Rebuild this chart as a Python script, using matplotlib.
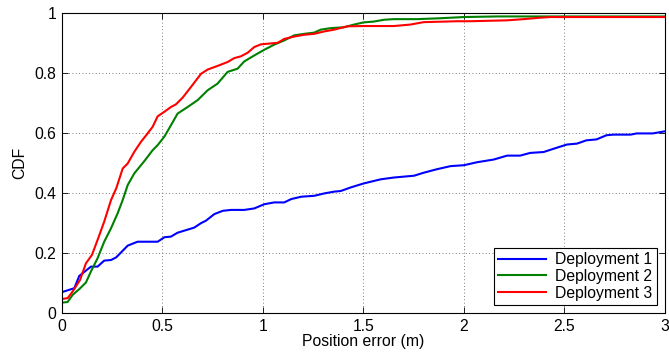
import numpy as np
import matplotlib
matplotlib.use("Agg")
import matplotlib.pyplot as plt

# Deployment 1
x1 = [0, 0.061, 0.086, 0.144, 0.177, 0.21, 0.244, 0.27, 0.327, 0.376, 0.476, 0.51, 0.542,
      0.575, 0.658, 0.692, 0.716, 0.758, 0.8, 0.84, 0.907, 0.957, 1.007, 1.056, 1.106, 1.14,
      1.19, 1.255, 1.305, 1.355, 1.387, 1.437, 1.5, 1.586, 1.652, 1.752, 1.8, 1.868, 1.934,
      2.0, 2.066, 2.149, 2.215, 2.28, 2.33, 2.397, 2.447, 2.513, 2.563, 2.61, 2.66, 2.71,
      2.745, 2.83, 2.86, 2.94, 3.0]
y1 = [0.07, 0.083, 0.124, 0.155, 0.155, 0.175, 0.177, 0.186, 0.225, 0.238, 0.238, 0.253, 0.255,
      0.268, 0.285, 0.30, 0.308, 0.33, 0.341, 0.344, 0.344, 0.349, 0.363, 0.369, 0.369, 0.38,
      0.388, 0.391, 0.399, 0.405, 0.407, 0.419, 0.432, 0.446, 0.452, 0.458, 0.468, 0.48, 0.49,
      0.493, 0.503, 0.512, 0.525, 0.525, 0.534, 0.537, 0.548, 0.562, 0.565, 0.576, 0.579, 0.593,
      0.595, 0.595, 0.599, 0.599, 0.606]

# Deployment 2
x2 = [0, 0.028, 0.053, 0.086, 0.119, 0.144, 0.177, 0.21, 0.244, 0.277, 0.302, 0.327, 0.36,
      0.41, 0.451, 0.476, 0.509, 0.542, 0.575, 0.625, 0.675, 0.725, 0.774, 0.824, 0.874, 0.907,
      0.957, 1.007, 1.056, 1.106, 1.156, 1.206, 1.255, 1.288, 1.338, 1.404, 1.454, 1.5, 1.553,
      1.603, 1.652, 1.768, 1.884, 2.0, 2.166, 2.33, 2.66, 3.0]
y2 = [0.035, 0.037, 0.061, 0.08, 0.102, 0.139, 0.183, 0.238, 0.283, 0.333, 0.377, 0.427, 0.466,
      0.507, 0.543, 0.56, 0.588, 0.626, 0.665, 0.687, 0.71, 0.743, 0.765, 0.804, 0.815, 0.839,
      0.859, 0.878, 0.895, 0.909, 0.926, 0.931, 0.935, 0.945, 0.95, 0.953, 0.962, 0.969, 0.972,
      0.978, 0.98, 0.98, 0.983, 0.987, 0.989, 0.989, 0.989, 0.989]

# Deployment 3
x3 = [0, 0.028, 0.053, 0.09, 0.119, 0.149, 0.177, 0.21, 0.244, 0.27, 0.302, 0.327, 0.36, 0.393,
      0.426, 0.451, 0.476, 0.509, 0.542, 0.567, 0.6, 0.642, 0.692, 0.725, 0.774, 0.824, 0.857,
      0.89, 0.924, 0.957, 0.99, 1.023, 1.073, 1.106, 1.156, 1.206, 1.255, 1.305, 1.355, 1.42,
      1.5, 1.652, 1.735, 1.8, 1.967, 2.033, 2.215, 2.298, 2.364, 2.43, 3.0]
y3 = [0.047, 0.05, 0.072, 0.111, 0.166, 0.194, 0.244, 0.305, 0.377, 0.416, 0.482, 0.499, 0.538,
      0.571, 0.599, 0.621, 0.656, 0.671, 0.687, 0.696, 0.718, 0.754, 0.798, 0.812, 0.824, 0.837,
      0.85, 0.856, 0.868, 0.887, 0.896, 0.898, 0.901, 0.914, 0.922, 0.928, 0.931, 0.939, 0.945,
      0.956, 0.957, 0.957, 0.962, 0.97, 0.973, 0.973, 0.976, 0.98, 0.984, 0.987, 0.987]

labels = ["Deployment 1", "Deployment 2", "Deployment 3"]
colors = ["#0000ff", "#008000", "#ff0000"]

xticks = [0, 0.5, 1, 1.5, 2, 2.5, 3]
xticklabels = ["0", "0.5", "1", "1.5", "2", "2.5", "3"]
yticks = [0, 0.2, 0.4, 0.6, 0.8, 1]
yticklabels = ["0", "0.2", "0.4", "0.6", "0.8", "1"]

plt.rcParams['font.family'] = ['Liberation Sans', 'DejaVu Sans']
plt.rcParams['font.size'] = 11.3

fig = plt.figure(figsize=(6.69, 3.55), dpi=100)
ax = fig.add_axes([0.0927, 0.118, 0.901, 0.845])

for xs, ys, lab, c in zip([x1, x2, x3], [y1, y2, y3], labels, colors):
    ax.plot(xs, ys, color=c, lw=1.5, label=lab)

ax.set_xlim(0, 3)
ax.set_ylim(0, 1)
ax.set_xticks(xticks)
ax.set_xticklabels(xticklabels)
ax.set_yticks(yticks)
ax.set_yticklabels(yticklabels)
ax.tick_params(direction="in", top=True, right=True, length=4, width=0.6, pad=4)
ax.grid(True, linestyle=(0, (1, 3)), color="#555555", lw=0.6)
for s in ax.spines.values():
    s.set_linewidth(0.8)

ax.set_xlabel("Position error (m)", labelpad=0)
ax.set_ylabel("CDF", labelpad=5)

leg = ax.legend(loc="lower right", fancybox=False, edgecolor="black", framealpha=1,
                handlelength=3.0, borderpad=0.3, labelspacing=0.1, borderaxespad=0.5,
                handletextpad=0.6)
leg.get_frame().set_linewidth(0.8)

fig.savefig("out.png", dpi=100)
